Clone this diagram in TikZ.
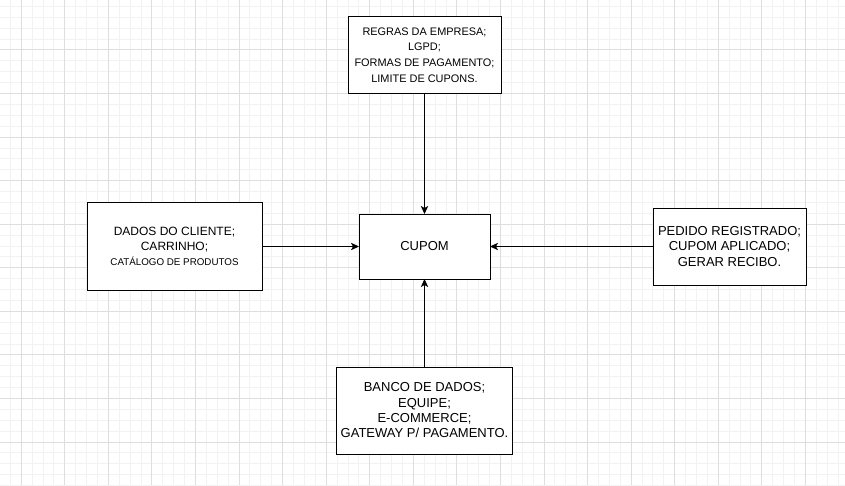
\documentclass[tikz,border=0pt]{standalone}
\usepackage{fontspec}
\setmainfont{Liberation Sans}
\usetikzlibrary{arrows.meta}
\begin{document}
\begin{tikzpicture}[x=0.75pt,y=-0.75pt,
    minorgrid/.style={draw=black!5,line width=0.75pt},
    majorgrid/.style={draw=black!13,line width=0.75pt}]

        \useasboundingbox (0,0) rectangle (845,485);
        \fill[white] (0,0) rectangle (845,485);

        % grid
        \foreach \i in {0,...,77}
          \draw[minorgrid] ({10.41+10.89*\i},0) -- ++(0,485);
        \foreach \i in {0,...,44}
          \draw[minorgrid] (0,{6.44+10.89*\i}) -- ++(845,0);
        \foreach \i in {0,...,18}
          \draw[majorgrid] ({21.3+43.56*\i},0) -- ++(0,485);
        \foreach \i in {0,...,9}
          \draw[majorgrid] (0,{50+43.56*\i}) -- ++(845,0);

        \begin{scope}[every node/.style={rectangle,draw,fill=white,line width=0.75pt,
            inner sep=0pt,outer sep=0pt,align=center,
            font=\fontsize{9.75}{11.5}\selectfont}]
          \node[minimum width=98.25pt,minimum height=48.75pt]
            (1) at (424.5,246.5) {CUPOM};
          \node[minimum width=114.75pt,minimum height=57pt,
                font=\fontsize{8.2}{11.7}\selectfont]
            (2) at (424.5,55) {REGRAS DA EMPRESA;\\LGPD;\\FORMAS DE PAGAMENTO;\\LIMITE DE CUPONS.};
          \node[minimum width=131.25pt,minimum height=66pt,
                font=\fontsize{9}{11.3}\selectfont]
            (3) at (174.5,246.5) {DADOS DO CLIENTE;\\CARRINHO;\\{\fontsize{7.35}{11.3}\selectfont CATÁLOGO DE PRODUTOS}};
          \node[minimum width=114.75pt,minimum height=57.75pt]
            (4) at (729.5,246.5) {PEDIDO REGISTRADO;\\CUPOM APLICADO;\\GERAR RECIBO.};
          \node[minimum width=132pt,minimum height=65.25pt]
            (5) at (424.5,410.5) {BANCO DE DADOS;\\EQUIPE;\\E-COMMERCE;\\GATEWAY P/ PAGAMENTO.};
        \end{scope}

        \begin{scope}[every edge/.style={draw,line width=0.75pt,
            -{Stealth[length=6pt,width=5.5pt,inset=1.5pt]}}]
          \path (2) edge (1);
          \path (3) edge (1);
          \path (4) edge (1);
          \path (5) edge (1);
        \end{scope}

      \end{tikzpicture}
\end{document}
